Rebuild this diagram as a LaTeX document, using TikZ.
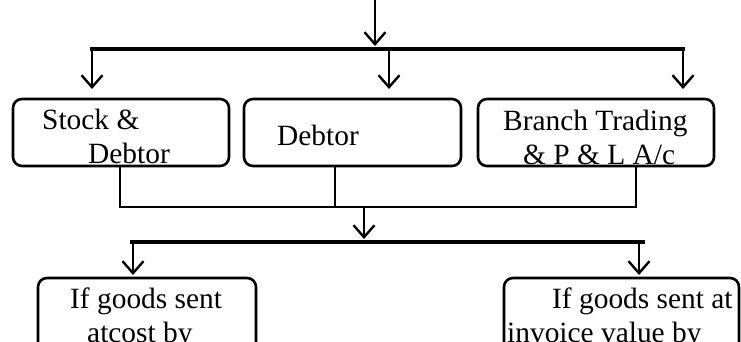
\documentclass[tikz,border=0pt]{standalone}
\usepackage{fontspec}
\setmainfont{Liberation Serif}
\usetikzlibrary{arrows.meta}
\begin{document}
\begin{tikzpicture}[x=1pt,y=-1pt,
  box/.style={draw, line width=2.6pt, rounded corners=9pt, inner sep=0pt},
  bus/.style={line width=3.8pt},
  wire/.style={line width=2.4pt},
  arr/.style={line width=2.4pt,
    -{Straight Barb[length=12pt,width=21pt,line width=2.4pt]}},
  lbl/.style={anchor=base west, inner sep=0pt,
    font=\fontsize{29.4}{34}\selectfont}]
\useasboundingbox (0,0) rectangle (741,342);
\clip (0,0) rectangle (741,342);

% boxes of the upper row
\node[box, minimum width=216pt, minimum height=67pt] (stock)  at (121,132.5) {};
\node[box, minimum width=217pt, minimum height=67pt] (debtor) at (352.5,132.5) {};
\node[box, minimum width=236pt, minimum height=67pt] (trade)  at (596,132.5) {};
% boxes of the lower row (running past the bottom edge)
\node[box, minimum width=218pt, minimum height=120pt] (cost)    at (147,338) {};
\node[box, minimum width=235pt, minimum height=120pt] (invoice) at (621.5,338) {};

% labels, cut off at the inner bottom edge of their boxes
\begin{scope}
  \clip (12,98) rectangle (230,164.5);
  \node[lbl] (t1a) at (42,129.5) {Stock \&};
  \node[lbl] (t1b) at (88,163) {Debtor};
\end{scope}
\node[lbl] (t2) at (277,145) {Debtor};
\begin{scope}
  \clip (477,98) rectangle (715,164.5);
  \node[lbl] (t3a) at (503,130.5) {Branch Trading};
  \node[lbl] (t3b) at (523,164) {\& P \& L A/c};
\end{scope}
\node[lbl] (t4a) at (70,308) {If goods sent};
\node[lbl] (t4b) at (87,342) {atcost by};
\node[lbl] (t5a) at (552,308) {If goods sent at};
\node[lbl] (t5b) at (507,342) {invoice value by};

% top distribution bus
\coordinate (in)  at (375,0);
\coordinate (inT) at (375,46);
\coordinate (bL)  at (90,49);
\coordinate (bR)  at (684.5,49);
\coordinate (dL)  at (92,49);
\coordinate (dM)  at (389,49);
\coordinate (dR)  at (683,49);
\draw[arr] (in) -- (inT);
\draw[bus] (bL) -- (bR);
\draw[arr] (dL) -- (dL |- 0,89);
\draw[arr] (dM) -- (dM |- 0,89);
\draw[arr] (dR) -- (dR |- 0,89);

% collecting lines below the upper row
\coordinate (c1) at (120,207);
\coordinate (c2) at (335,207);
\coordinate (c3) at (636,207);
\draw[wire] (c1 |- stock.south) -- (c1);
\draw[wire] (c2 |- debtor.south) -- (c2);
\draw[wire] (c3 |- trade.south) -- (c3);
\draw[wire] ([xshift=-1.2pt]c1) -- ([xshift=1.2pt]c3);
\coordinate (m) at (364,207);
\draw[arr] (m) -- (364,239);

% lower distribution bus
\coordinate (lL) at (130,242);
\coordinate (lR) at (645,242);
\draw[bus] (lL) -- (lR);
\draw[arr] (133,242) -- (133,275);
\draw[arr] (639,242) -- (639,275);
\end{tikzpicture}
\end{document}
